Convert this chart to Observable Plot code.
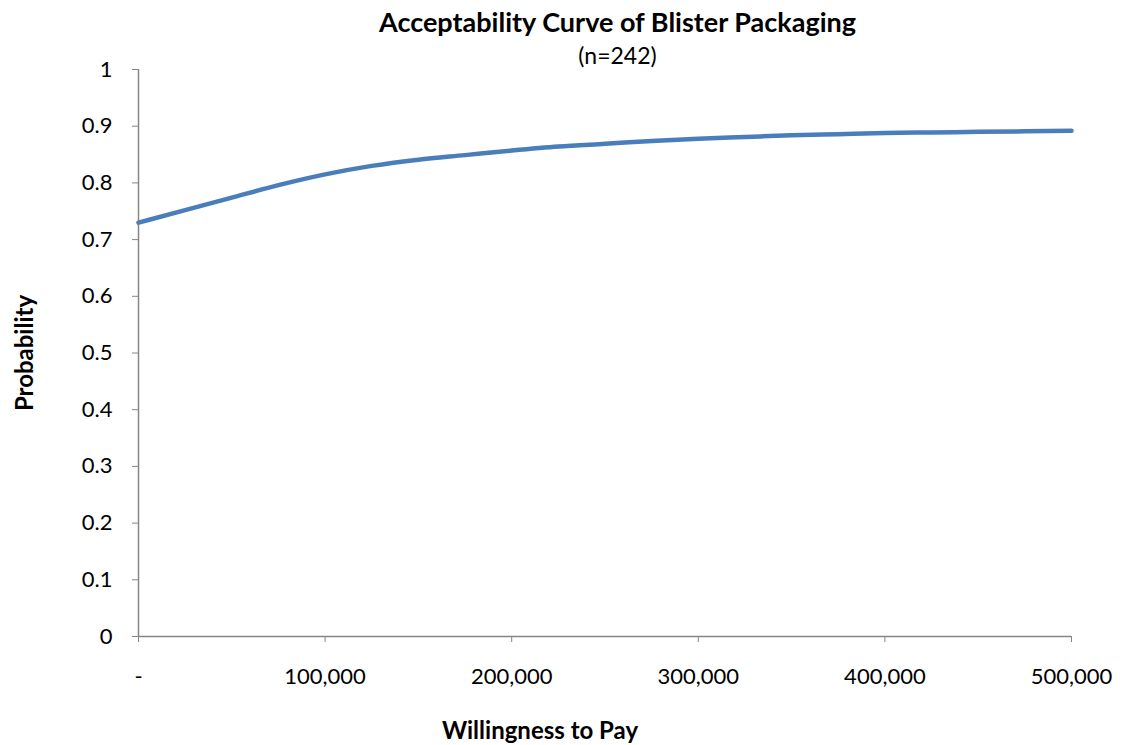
<!DOCTYPE html>
<html>
<head>
<meta charset="utf-8">
<script src="https://cdn.jsdelivr.net/npm/d3@7"></script>
<script src="https://cdn.jsdelivr.net/npm/@observablehq/plot@0.6"></script>
<style>
  html, body { margin: 0; padding: 0; background: #fff; }
  body { width: 1130px; height: 745px; overflow: hidden; font-family: Lato, "Open Sans", sans-serif; position: relative; }
  #chart { position: absolute; left: 0; top: 60px; }
  #title { position: absolute; left: 0; top: 6px; width: 1235px; text-align: center; font-weight: bold; font-size: 27px; color: #000; line-height: 32px; }
  #subtitle { position: absolute; left: 0; top: 41px; width: 1235px; text-align: center; font-size: 23px; color: #000; line-height: 28px; }
</style>
</head>
<body>
<div id="chart"></div>
<div id="title">Acceptability Curve of Blister Packaging</div>
<div id="subtitle">(n=242)</div>
<script>
const wtp = [0, 25000, 50000, 75000, 100000, 125000, 150000, 175000, 200000, 225000, 250000, 275000, 300000, 325000, 350000, 375000, 400000, 425000, 450000, 475000, 500000];
const probability = [0.730, 0.752, 0.774, 0.796, 0.815, 0.830, 0.841, 0.849, 0.857, 0.864, 0.869, 0.874, 0.878, 0.881, 0.884, 0.886, 0.888, 0.889, 0.890, 0.891, 0.892];
const xTicks = [0, 100000, 200000, 300000, 400000, 500000];
const xTickLabels = ["-", "100,000", "200,000", "300,000", "400,000", "500,000"];
const yTicks = [0, 0.1, 0.2, 0.3, 0.4, 0.5, 0.6, 0.7, 0.8, 0.9, 1];
const yTickLabels = ["0", "0.1", "0.2", "0.3", "0.4", "0.5", "0.6", "0.7", "0.8", "0.9", "1"];

const data = wtp.map((w, i) => ({wtp: w, p: probability[i]}));
const axisColor = "#868686";

const chart = Plot.plot({
  width: 1130,
  height: 685,
  marginLeft: 138,
  marginRight: 59,
  marginTop: 9,
  marginBottom: 109,
  style: { fontFamily: "Lato, 'Open Sans', sans-serif", fontSize: "22px", color: "#000", background: "transparent", overflow: "visible" },
  x: { domain: [0, 500000], label: null },
  y: { domain: [0, 1], label: null },
  marks: [
    Plot.ruleY([0], { stroke: axisColor, strokeWidth: 1.5 }),
    Plot.ruleX([0], { stroke: axisColor, strokeWidth: 1.5 }),
    Plot.axisX({ ticks: xTicks, tickFormat: (d) => xTickLabels[xTicks.indexOf(d)], tickSize: 6, tickPadding: 26, stroke: axisColor, fill: "#000", fontSize: 22 }),
    Plot.axisY({ ticks: yTicks, tickFormat: (d) => yTickLabels[yTicks.findIndex(t => Math.abs(t - d) < 1e-9)], tickSize: 6, tickPadding: 20, stroke: axisColor, fill: "#000", fontSize: 22 }),
    Plot.line(data, { x: "wtp", y: "p", stroke: "#4a7ebb", strokeWidth: 4.5, curve: "monotone-x", strokeLinecap: "round" }),
    Plot.text(["Willingness to Pay"], { frameAnchor: "bottom", lineAnchor: "middle", dy: 95, dx: -65, fontWeight: "bold", fontSize: 24, fill: "#000" }),
    Plot.text(["Probability"], { frameAnchor: "left", textAnchor: "middle", lineAnchor: "middle", dx: -113, rotate: -90, fontWeight: "bold", fontSize: 24, fill: "#000" })
  ]
});
document.getElementById("chart").appendChild(chart);
</script>
</body>
</html>
